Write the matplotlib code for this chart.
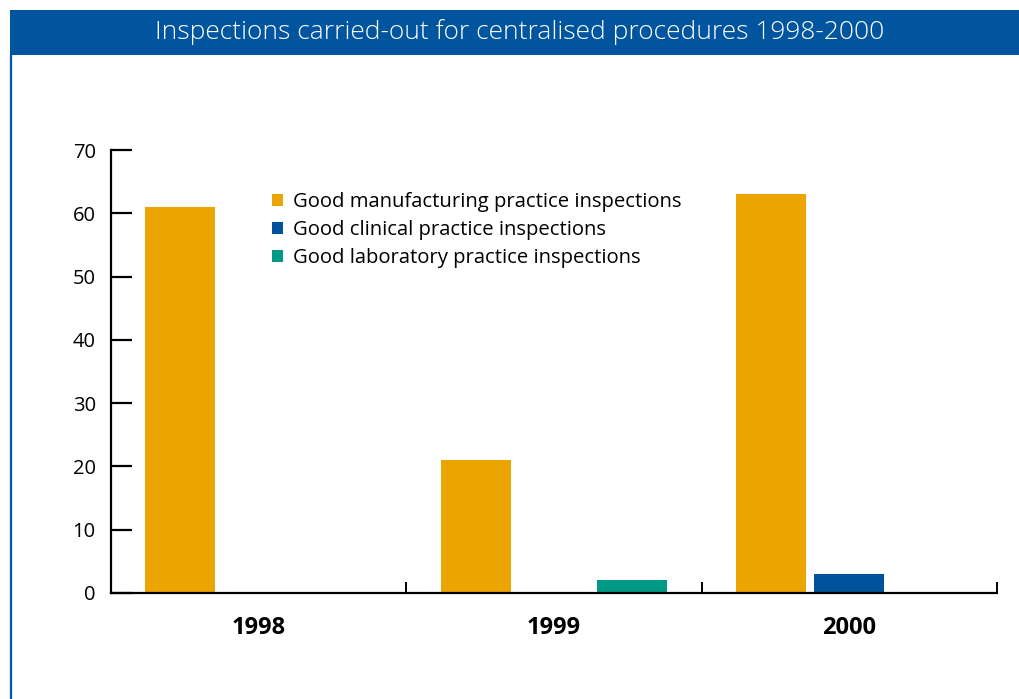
#!/usr/bin/env python3

import matplotlib.pyplot as plt
from matplotlib.patches import Rectangle
from matplotlib.lines import Line2D

plt.rcParams['font.family'] = ['Open Sans', 'DejaVu Sans']

# data
years = ["1998", "1999", "2000"]
series = ["Good manufacturing practice inspections",
          "Good clinical practice inspections",
          "Good laboratory practice inspections"]
manufacturing = [61, 21, 63]
clinical = [0, 0, 3]
laboratory = [0, 2, 0]
colors = ["#EBA400", "#00539B", "#009985"]
yticks = [0, 10, 20, 30, 40, 50, 60, 70]

W, H = 1019, 699
fig = plt.figure(figsize=(W / 100, H / 100), dpi=100)

# header band and left frame line
band_blue = "#00559E"
fig.add_artist(Rectangle((10 / W, 1 - 55 / H), 1 - 10 / W, 45 / H,
                         transform=fig.transFigure, color=band_blue, lw=0))
fig.add_artist(Line2D([11 / W, 11 / W], [0, 1 - 55 / H],
                      transform=fig.transFigure, color=band_blue, lw=1.6))
fig.text(520 / W, 1 - 32 / H,
         "Inspections carried-out for centralised procedures 1998-2000",
         color="white", fontsize=19, fontweight="light",
         ha="center", va="center")

ax = fig.add_axes([111 / W, 1 - 593 / H, (997 - 111) / W, (593 - 150) / H])

offsets = [-0.265, 0.0, 0.265]
width = 0.237
for vals, off, col, lab in zip([manufacturing, clinical, laboratory],
                               offsets, colors, series):
    xs = [i + 0.5 + off for i in range(len(years))]
    ax.bar(xs, vals, width=width, color=col, label=lab, linewidth=0)

ax.set_xlim(0, len(years))
ax.set_ylim(0, 70)
ax.set_yticks(yticks)
ax.tick_params(axis="y", direction="in", length=15, width=1.6,
               labelsize=14.5, pad=11)
ax.set_xticks(range(len(years) + 1))
ax.set_xticklabels([])
ax.tick_params(axis="x", direction="in", length=8, width=1.4)
for i, y in enumerate(years):
    ax.text(i + 0.5, -0.078, y, transform=ax.get_xaxis_transform(),
            ha="center", va="center", fontsize=17, fontweight="bold")

for s in ["top", "right"]:
    ax.spines[s].set_visible(False)
for s in ["left", "bottom"]:
    ax.spines[s].set_linewidth(1.6)

ax.legend(loc="upper left", bbox_to_anchor=(272 / W, 1 - 192 / H),
          bbox_transform=fig.transFigure, frameon=False, fontsize=14.6,
          handlelength=0.55, handleheight=0.55, handletextpad=0.5,
          labelspacing=0.4, borderaxespad=0, borderpad=0)

fig.savefig("out.png", dpi=100)
